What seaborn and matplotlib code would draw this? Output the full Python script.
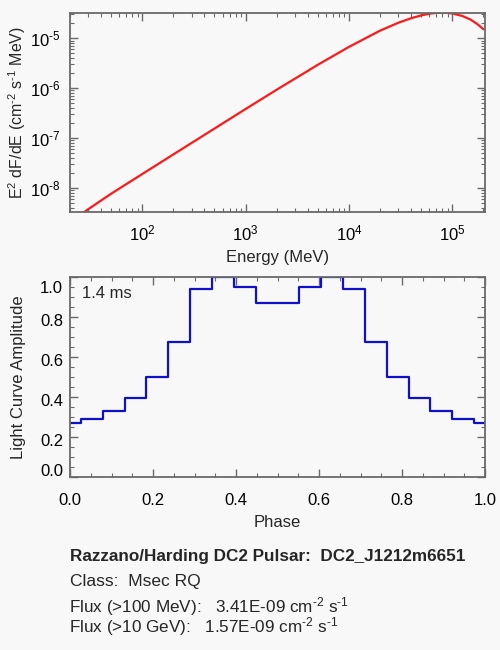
import math
import matplotlib
matplotlib.use('Agg')
import matplotlib.pyplot as plt
import matplotlib.ticker as mticker
import matplotlib.transforms as mtransforms
import seaborn as sns
import pandas as pd

# spectrum
energy_mev = [28, 50, 100, 200, 500, 1e3, 2e3, 5e3, 1e4, 2e4, 3e4, 4e4,
              5e4, 6e4, 7e4, 8e4, 9e4, 1e5, 1.25e5, 1.5e5, 1.75e5, 2e5]
e2_dfde = [3.4e-9, 7.66e-9, 1.90e-8, 4.70e-8, 1.55e-7, 3.82e-7, 9.31e-7,
           2.94e-6, 6.71e-6, 1.42e-5, 2.04e-5, 2.52e-5, 2.87e-5, 3.10e-5,
           3.22e-5, 3.25e-5, 3.22e-5, 3.14e-5, 2.79e-5, 2.36e-5, 1.91e-5,
           1.51e-5]

# light curve (histogram, 19 bins)
phase = [0.0, 0.0526, 0.1053, 0.1579, 0.2105, 0.2632, 0.3158, 0.3684,
         0.4211, 0.4737, 0.5263, 0.5789, 0.6316, 0.6842, 0.7368, 0.7895,
         0.8421, 0.8947, 0.9474, 1.0]
amplitude = [0.273, 0.292, 0.333, 0.398, 0.503, 0.677, 0.942, 1.0, 0.953,
             0.870, 0.870, 0.953, 1.0, 0.942, 0.677, 0.503, 0.398, 0.333,
             0.292, 0.273]

period_label = '1.4 ms'
title_line = 'Razzano/Harding DC2 Pulsar:  DC2_J1212m6651'
class_line = 'Class:  Msec RQ'
flux_lines = [
    r'Flux (>100 MeV):   3.41E-09 cm$^{\text{-}2}$ s$^{\text{-}1}$',
    r'Flux (>10 GeV):   1.57E-09 cm$^{\text{-}2}$ s$^{\text{-}1}$',
]

sns.set_style('ticks')
bg = '#f8f8f8'
axcol = '#6a6a6a'
plt.rcParams['font.family'] = ['Liberation Sans', 'DejaVu Sans']
plt.rcParams['mathtext.fontset'] = 'custom'
plt.rcParams['mathtext.rm'] = 'Liberation Sans'
plt.rcParams['mathtext.it'] = 'Liberation Sans:italic'
plt.rcParams['mathtext.bf'] = 'Liberation Sans:bold'
plt.rcParams['axes.unicode_minus'] = False
plt.rcParams['font.size'] = 12

spec = pd.DataFrame({'Energy': energy_mev, 'Flux': e2_dfde})
lc = pd.DataFrame({'Phase': phase, 'Amp': amplitude})

fig = plt.figure(figsize=(5, 6.5), dpi=100, facecolor=bg)
ax1 = fig.add_axes([0.14, 0.6734, 0.83, 0.3071])
ax2 = fig.add_axes([0.14, 0.2657, 0.83, 0.3077])


def style_axis(ax):
    ax.set_facecolor(bg)
    for s in ax.spines.values():
        s.set_color(axcol)
        s.set_linewidth(1.3)
    ax.tick_params(which='both', direction='in', top=True, right=True,
                   color=axcol, labelcolor='black', labelsize=12)
    ax.tick_params(which='major', length=5.5, width=1.0)
    ax.tick_params(which='minor', length=2.8, width=0.8)


def pow_label(v, pos):
    e = int(round(math.log10(v)))
    if e < 0:
        return r'$10^{\text{-}%d}$' % (-e)
    return r'$10^{%d}$' % e


# upper panel: spectrum
sns.lineplot(data=spec, x='Energy', y='Flux', ax=ax1, color='#ff1a1a',
             linewidth=1.6, sort=True)
ax1.set_xscale('log')
ax1.set_yscale('log')
ax1.set_xlim(20, 2.07e5)
ax1.set_ylim(3.25e-9, 3.25e-5)
ax1.xaxis.set_major_locator(mticker.LogLocator(base=10, numticks=10))
ax1.xaxis.set_minor_locator(mticker.LogLocator(base=10, subs=range(2, 10), numticks=20))
ax1.yaxis.set_major_locator(mticker.LogLocator(base=10, numticks=10))
ax1.yaxis.set_minor_locator(mticker.LogLocator(base=10, subs=range(2, 10), numticks=20))
ax1.xaxis.set_major_formatter(mticker.FuncFormatter(pow_label))
ax1.yaxis.set_major_formatter(mticker.FuncFormatter(pow_label))
ax1.xaxis.set_minor_formatter(mticker.NullFormatter())
ax1.yaxis.set_minor_formatter(mticker.NullFormatter())
style_axis(ax1)
ax1.tick_params(axis='x', which='major', pad=8)
ax1.tick_params(axis='y', which='major', pad=7)
ax1.set_xlabel('Energy (MeV)', fontsize=12, labelpad=5)
ax1.set_ylabel(r'E$^2$ dF/dE (cm$^{\text{-}2}$ s$^{\text{-}1}$ MeV)',
               fontsize=11.5, labelpad=1)

# lower panel: light curve
sns.lineplot(data=lc, x='Phase', y='Amp', ax=ax2, color='#1010c8',
             linewidth=1.6, drawstyle='steps-mid')
ax2.set_xlim(0, 1)
ax2.set_ylim(0, 1)
ax2.xaxis.set_major_locator(mticker.MultipleLocator(0.2))
ax2.xaxis.set_minor_locator(mticker.MultipleLocator(0.05))
ax2.yaxis.set_major_locator(mticker.MultipleLocator(0.2))
ax2.yaxis.set_minor_locator(mticker.MultipleLocator(0.05))
ax2.xaxis.set_major_formatter(mticker.FormatStrFormatter('%.1f'))
ax2.yaxis.set_major_formatter(mticker.FormatStrFormatter('%.1f'))
style_axis(ax2)
ax2.tick_params(axis='x', which='major', pad=11)
ax2.tick_params(axis='y', which='major', pad=5)
ax2.set_xlabel('Phase', fontsize=12, labelpad=5)
ax2.set_ylabel('Light Curve Amplitude', fontsize=12, labelpad=10)
ax2.text(0.028, 0.92, period_label, transform=ax2.transAxes,
         ha='left', va='center', fontsize=12)

# info text under the plots
fig.text(0.14, 0.1435, title_line, ha='left', va='center', fontsize=12.3,
         fontweight='bold')
fig.text(0.14, 0.1051, class_line, ha='left', va='center', fontsize=12.5)
# the two flux lines share one text block (they sit very close together)
fig.text(0.138, 0.0512, '\n'.join(flux_lines), ha='left', va='center',
         fontsize=12.3, linespacing=0.87)

# nudge the end labels of the light-curve y axis inward, like the original
fig.canvas.draw()
for tick in ax2.yaxis.get_major_ticks():
    v = tick.get_loc()
    if abs(v - 1.0) < 1e-6:
        dy = -7
    elif abs(v) < 1e-6:
        dy = 5
    else:
        dy = -2
    off = mtransforms.ScaledTranslation(0, dy / 72, fig.dpi_scale_trans)
    tick.label1.set_transform(tick.label1.get_transform() + off)

fig.savefig('out.png', dpi=100, facecolor=bg)
